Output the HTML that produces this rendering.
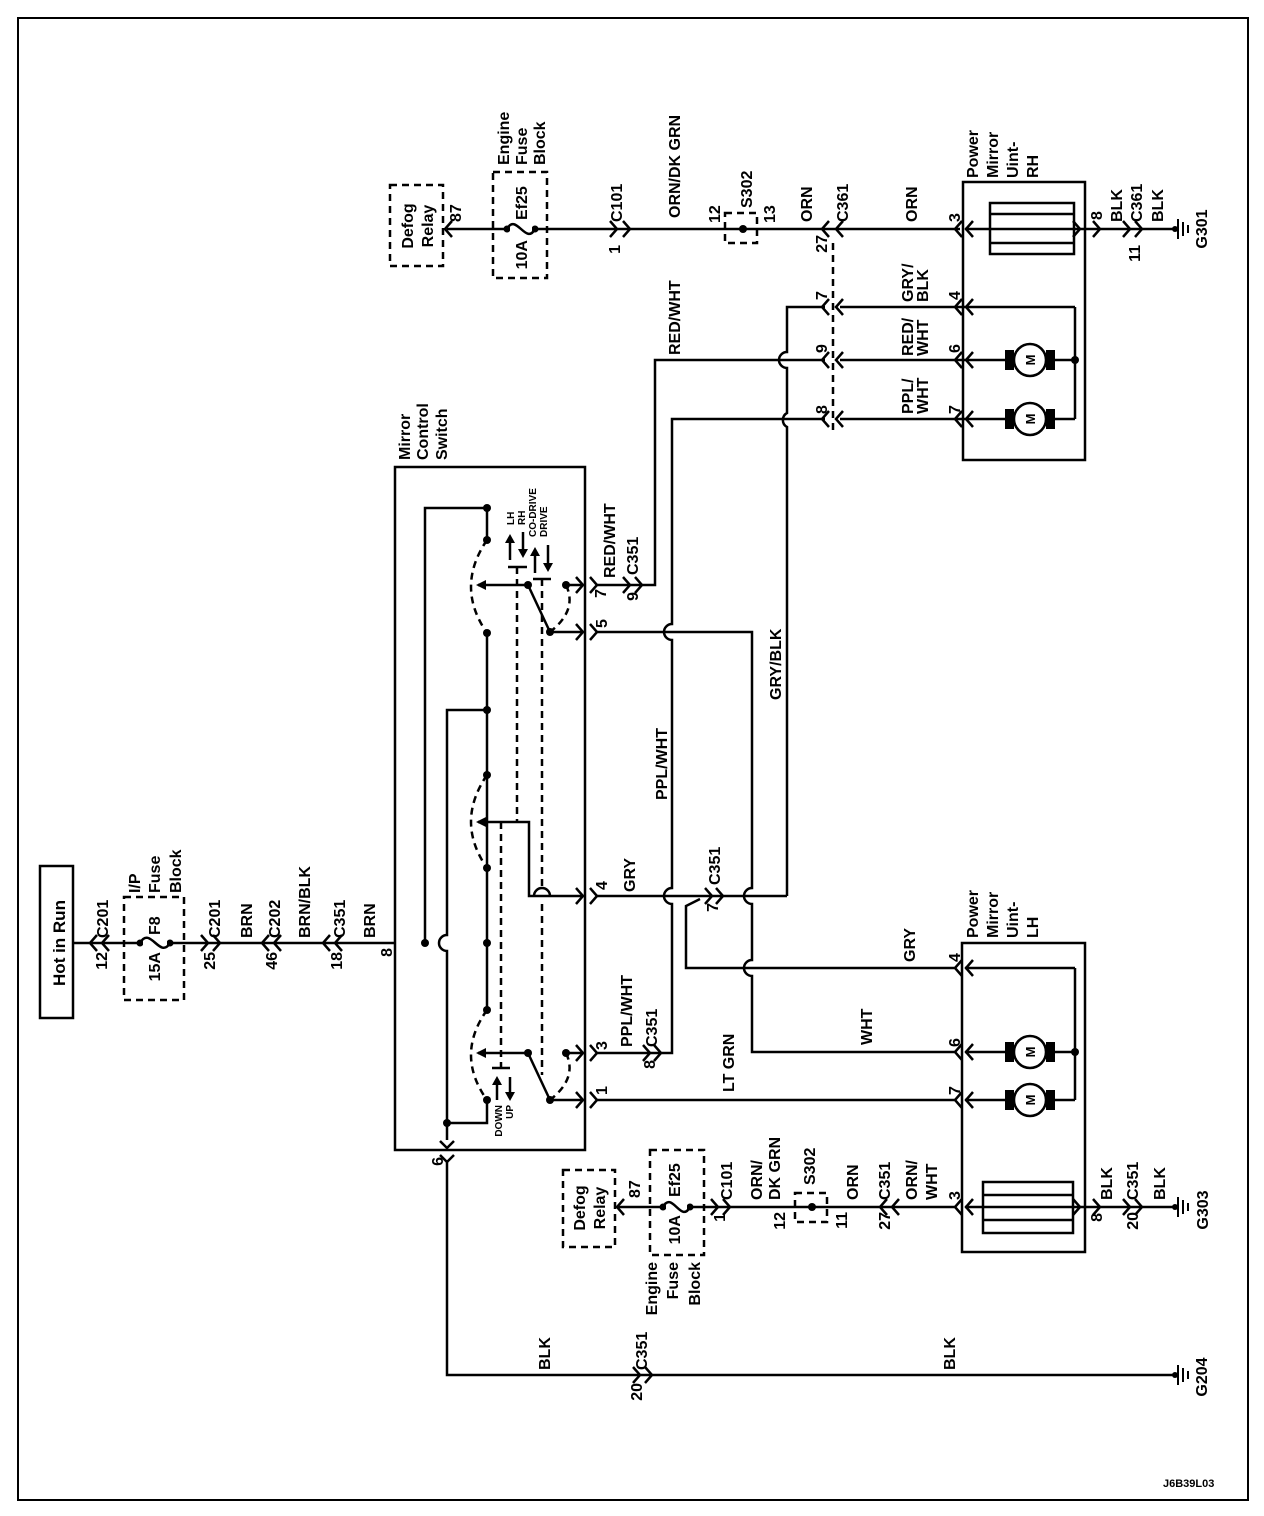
<!DOCTYPE html>
<html><head><meta charset="utf-8"><style>
html,body{margin:0;padding:0;background:#fff}
svg{display:block}
text{font-family:"Liberation Sans",Arial,sans-serif;font-size:16px;font-weight:bold;fill:#000}
.s{font-size:10px;font-weight:bold}
</style></head><body>
<svg width="1264" height="1516" viewBox="0 0 1264 1516" xmlns="http://www.w3.org/2000/svg">
<defs>
<polyline id="R" points="-7,-8 0,0 -7,8" fill="none" stroke="#000" stroke-width="2.5"/>
<polyline id="L" points="7,-8 0,0 7,8" fill="none" stroke="#000" stroke-width="2.5"/>
<polyline id="D" points="-7,-7 0,0 7,-7" fill="none" stroke="#000" stroke-width="2.5"/>
<g id="M"><rect x="-25" y="-10" width="9" height="20" fill="#000"/><rect x="16" y="-10" width="9" height="20" fill="#000"/><circle r="16" fill="#fff" stroke="#000" stroke-width="2.5"/><text x="0" y="0" transform="rotate(-90)" text-anchor="middle" dy="5" style="font-size:13px;font-weight:bold">M</text></g>
<g id="G"><circle r="3" fill="#000"/><line x1="3" y1="-10" x2="3" y2="10" stroke="#000" stroke-width="2"/><line x1="8" y1="-7" x2="8" y2="7" stroke="#000" stroke-width="2"/><line x1="13" y1="-4" x2="13" y2="4" stroke="#000" stroke-width="2"/></g>
</defs>
<rect x="18" y="18" width="1230" height="1482" fill="none" stroke="#000" stroke-width="2"/>

<g fill="none" stroke="#000" stroke-width="2.5">
<rect x="40" y="866" width="33" height="152"/>
<line x1="73" y1="943" x2="395" y2="943"/>
<line x1="447" y1="229" x2="960" y2="229"/>
<line x1="965" y1="229" x2="1175" y2="229"/>
<rect x="963" y="182" width="122" height="278"/>
<rect x="990" y="203" width="84" height="51"/>
<line x1="990" y1="214" x2="1074" y2="214"/><line x1="990" y1="243" x2="1074" y2="243"/>
<line x1="1075" y1="307" x2="1075" y2="419"/>
<line x1="840" y1="307" x2="1075" y2="307"/>
<line x1="840" y1="360" x2="1075" y2="360"/>
<line x1="840" y1="419" x2="1075" y2="419"/>
<path d="M825 307 H787 V352 A8 8 0 0 0 787 368 V413 A8 8 0 0 0 787 427 V896"/>
<path d="M825 360 H655 V585 H640"/>
<path d="M825 419 H672 V624 A8 8 0 0 0 672 640 V888 A8 8 0 0 0 672 904 V1053 H660"/>
<rect x="395" y="467" width="190" height="683"/>
<path d="M425 943 V508 H487 V540"/>
<path d="M487 633 V1010"/>
<path d="M447 1140 V951 A8 8 0 0 1 447 935 V710 H487"/>
<path d="M487 1100 V1123 H447"/>
<line x1="478" y1="585" x2="528" y2="585"/>
<line x1="528" y1="585" x2="550" y2="632"/>
<line x1="550" y1="632" x2="583" y2="632"/>
<line x1="566" y1="585" x2="583" y2="585"/>
<path d="M478 822 H529 V896 H583"/>
<line x1="478" y1="1053" x2="528" y2="1053"/>
<line x1="528" y1="1053" x2="550" y2="1100"/>
<line x1="550" y1="1100" x2="583" y2="1100"/>
<line x1="566" y1="1053" x2="583" y2="1053"/>
<path d="M597 585 H640"/>
<path d="M597 632 H752 V888 A8 8 0 0 0 752 904 V960 A8 8 0 0 0 752 976 V1052 H955"/>
<path d="M597 896 H787"/>
<path d="M700 899 L686 906 V968 H955"/>
<line x1="597" y1="1053" x2="660" y2="1053"/>
<line x1="597" y1="1100" x2="955" y2="1100"/>
<rect x="962" y="943" width="123" height="309"/>
<line x1="1075" y1="968" x2="1075" y2="1100"/>
<line x1="965" y1="968" x2="1075" y2="968"/>
<line x1="965" y1="1052" x2="1075" y2="1052"/>
<line x1="965" y1="1100" x2="1075" y2="1100"/>
<rect x="983" y="1182" width="90" height="51"/>
<line x1="983" y1="1195" x2="1073" y2="1195"/><line x1="983" y1="1220" x2="1073" y2="1220"/>
<line x1="618" y1="1207" x2="955" y2="1207"/>
<line x1="965" y1="1207" x2="1175" y2="1207"/>
<path d="M447 1160 V1375 H1175"/>
</g>
<g fill="none" stroke="#000" stroke-width="2.5" stroke-dasharray="7,5">
<rect x="124" y="897" width="60" height="103"/>
<rect x="390" y="185" width="53" height="81"/>
<rect x="493" y="172" width="54" height="106"/>
<rect x="725" y="213" width="32" height="30"/>
<line x1="833" y1="243" x2="833" y2="430"/>
<rect x="563" y="1170" width="52" height="77"/>
<rect x="650" y="1150" width="54" height="105"/>
<rect x="795" y="1193" width="32" height="29"/>
<path d="M487 540 Q455 587 487 633"/>
<path d="M487 775 Q455 822 487 868"/>
<path d="M487 1010 Q455 1055 487 1100"/>
<path d="M566 585 Q578 610 550 632"/>
<path d="M566 1053 Q578 1078 550 1100"/>
<line x1="517" y1="567" x2="517" y2="822"/>
<line x1="542" y1="579" x2="542" y2="888"/>
<line x1="542" y1="904" x2="542" y2="1075"/>
<line x1="501" y1="822" x2="501" y2="1068"/>
</g>
<path d="M534 896 A8 8 0 0 1 550 896" fill="none" stroke="#000" stroke-width="2.5"/>
<g stroke="#000" stroke-width="2.5">
<line x1="508" y1="567" x2="527" y2="567"/><line x1="533" y1="579" x2="551" y2="579"/><line x1="492" y1="1068" x2="510" y2="1068"/>
<line x1="510" y1="560" x2="510" y2="540"/><line x1="523" y1="532" x2="523" y2="552"/>
<line x1="535" y1="573" x2="535" y2="553"/><line x1="548" y1="545" x2="548" y2="566"/>
<line x1="497" y1="1100" x2="497" y2="1082"/><line x1="510" y1="1077" x2="510" y2="1095"/>
</g>
<g fill="#000">
<polygon points="510,534 505,543 515,543"/><polygon points="523,558 518,549 528,549"/>
<polygon points="535,547 530,556 540,556"/><polygon points="548,572 543,563 553,563"/>
<polygon points="497,1076 492,1085 502,1085"/><polygon points="510,1101 505,1092 515,1092"/>
<polygon points="476,585 486,580 486,590"/><polygon points="476,822 486,817 486,827"/><polygon points="476,1053 486,1048 486,1058"/>
<circle cx="425" cy="943" r="4"/><circle cx="487" cy="943" r="4"/><circle cx="487" cy="508" r="4"/><circle cx="487" cy="540" r="4"/><circle cx="487" cy="633" r="4"/><circle cx="487" cy="710" r="4"/><circle cx="487" cy="775" r="4"/><circle cx="487" cy="868" r="4"/><circle cx="487" cy="1010" r="4"/><circle cx="487" cy="1100" r="4"/><circle cx="447" cy="1123" r="4"/>
<circle cx="528" cy="585" r="4"/><circle cx="566" cy="585" r="4"/><circle cx="550" cy="632" r="4"/>
<circle cx="528" cy="1053" r="4"/><circle cx="566" cy="1053" r="4"/><circle cx="550" cy="1100" r="4"/>
<circle cx="743" cy="229" r="4"/><circle cx="812" cy="1207" r="4"/>
<circle cx="1075" cy="360" r="4"/><circle cx="1075" cy="1052" r="4"/>
<circle cx="140" cy="943" r="3.5"/><circle cx="170" cy="943" r="3.5"/>
<circle cx="507" cy="229" r="3.5"/><circle cx="535" cy="229" r="3.5"/>
<circle cx="663" cy="1207" r="3.5"/><circle cx="690" cy="1207" r="3.5"/>
</g>
<g stroke="#fff" stroke-width="4"><line x1="143" y1="943" x2="167" y2="943"/><line x1="510" y1="229" x2="532" y2="229"/><line x1="666" y1="1207" x2="687" y2="1207"/></g>
<g fill="none" stroke="#000" stroke-width="2.5">
<path d="M140 943 C150 925 160 960 170 943"/><path d="M507 229 C516 212 526 246 535 229"/><path d="M663 1207 C672 1190 681 1224 690 1207"/>
</g>
<use href="#M" x="1030" y="360"/><use href="#M" x="1030" y="419"/>
<use href="#M" x="1030" y="1052"/><use href="#M" x="1030" y="1100"/>
<use href="#G" x="1175" y="229"/><use href="#G" x="1175" y="1207"/><use href="#G" x="1175" y="1375"/>
<use href="#L" x="90" y="943"/><use href="#L" x="102" y="943"/>
<use href="#R" x="208" y="943"/><use href="#R" x="220" y="943"/>
<use href="#L" x="262" y="943"/><use href="#L" x="274" y="943"/>
<use href="#L" x="323" y="943"/><use href="#L" x="335" y="943"/>
<use href="#L" x="445" y="229"/>
<use href="#R" x="617" y="229"/><use href="#R" x="630" y="229"/>
<use href="#L" x="822" y="229"/><use href="#L" x="836" y="229"/>
<use href="#L" x="822" y="307"/><use href="#L" x="836" y="307"/>
<use href="#L" x="822" y="360"/><use href="#L" x="836" y="360"/>
<use href="#L" x="822" y="419"/><use href="#L" x="836" y="419"/>
<use href="#L" x="955" y="229"/><use href="#L" x="966" y="229"/>
<use href="#L" x="955" y="307"/><use href="#L" x="966" y="307"/>
<use href="#L" x="955" y="360"/><use href="#L" x="966" y="360"/>
<use href="#L" x="955" y="419"/><use href="#L" x="966" y="419"/>
<use href="#R" x="1080" y="229"/><use href="#R" x="1100" y="229"/>
<use href="#R" x="1130" y="229"/><use href="#R" x="1142" y="229"/>
<use href="#R" x="583" y="585"/><use href="#R" x="597" y="585"/>
<use href="#R" x="583" y="632"/><use href="#R" x="597" y="632"/>
<use href="#R" x="583" y="896"/><use href="#R" x="597" y="896"/>
<use href="#R" x="583" y="1053"/><use href="#R" x="597" y="1053"/>
<use href="#R" x="583" y="1100"/><use href="#R" x="597" y="1100"/>
<use href="#R" x="630" y="585"/><use href="#R" x="642" y="585"/>
<use href="#R" x="712" y="896"/><use href="#R" x="723" y="896"/>
<use href="#R" x="650" y="1053"/><use href="#R" x="661" y="1053"/>
<use href="#L" x="955" y="968"/><use href="#L" x="966" y="968"/>
<use href="#L" x="955" y="1052"/><use href="#L" x="966" y="1052"/>
<use href="#L" x="955" y="1100"/><use href="#L" x="966" y="1100"/>
<use href="#L" x="955" y="1207"/><use href="#L" x="966" y="1207"/>
<use href="#R" x="1080" y="1207"/><use href="#R" x="1100" y="1207"/>
<use href="#R" x="1130" y="1207"/><use href="#R" x="1142" y="1207"/>
<use href="#L" x="617" y="1207"/>
<use href="#R" x="718" y="1207"/><use href="#R" x="730" y="1207"/>
<use href="#L" x="880" y="1207"/><use href="#L" x="892" y="1207"/>
<use href="#D" x="447" y="1148"/><use href="#D" x="447" y="1162"/>
<use href="#R" x="640" y="1375"/><use href="#R" x="652" y="1375"/>

<g>
<text x="65" y="943" text-anchor="middle" transform="rotate(-90 65 943)" style="font-size:17px">Hot in Run</text>
<text x="108" y="938" transform="rotate(-90 108 938)">C201</text>
<text x="107" y="952" text-anchor="end" transform="rotate(-90 107 952)">12</text>
<text x="140" y="893" transform="rotate(-90 140 893)">I/P</text>
<text x="160" y="893" transform="rotate(-90 160 893)">Fuse</text>
<text x="181" y="893" transform="rotate(-90 181 893)">Block</text>
<text x="160" y="935" transform="rotate(-90 160 935)">F8</text>
<text x="160" y="952" text-anchor="end" transform="rotate(-90 160 952)">15A</text>
<text x="220" y="938" transform="rotate(-90 220 938)">C201</text>
<text x="215" y="952" text-anchor="end" transform="rotate(-90 215 952)">25</text>
<text x="252" y="938" transform="rotate(-90 252 938)">BRN</text>
<text x="280" y="938" transform="rotate(-90 280 938)">C202</text>
<text x="277" y="952" text-anchor="end" transform="rotate(-90 277 952)">46</text>
<text x="310" y="938" transform="rotate(-90 310 938)">BRN/BLK</text>
<text x="345" y="938" transform="rotate(-90 345 938)">C351</text>
<text x="342" y="952" text-anchor="end" transform="rotate(-90 342 952)">18</text>
<text x="375" y="938" transform="rotate(-90 375 938)">BRN</text>
<text x="392" y="948" text-anchor="end" transform="rotate(-90 392 948)">8</text>

<text x="413" y="226" text-anchor="middle" transform="rotate(-90 413 226)">Defog</text>
<text x="433" y="226" text-anchor="middle" transform="rotate(-90 433 226)">Relay</text>
<text x="461" y="222" transform="rotate(-90 461 222)">87</text>
<text x="509" y="165" transform="rotate(-90 509 165)">Engine</text>
<text x="527" y="165" transform="rotate(-90 527 165)">Fuse</text>
<text x="545" y="165" transform="rotate(-90 545 165)">Block</text>
<text x="527" y="220" transform="rotate(-90 527 220)">Ef25</text>
<text x="527" y="240" text-anchor="end" transform="rotate(-90 527 240)">10A</text>
<text x="622" y="222" transform="rotate(-90 622 222)">C101</text>
<text x="620" y="245" text-anchor="end" transform="rotate(-90 620 245)">1</text>
<text x="680" y="218" transform="rotate(-90 680 218)">ORN/DK GRN</text>
<text x="720" y="223" transform="rotate(-90 720 223)">12</text>
<text x="752" y="208" transform="rotate(-90 752 208)">S302</text>
<text x="775" y="223" transform="rotate(-90 775 223)">13</text>
<text x="812" y="222" transform="rotate(-90 812 222)">ORN</text>
<text x="848" y="222" transform="rotate(-90 848 222)">C361</text>
<text x="827" y="235" text-anchor="end" transform="rotate(-90 827 235)">27</text>
<text x="917" y="222" transform="rotate(-90 917 222)">ORN</text>
<text x="960" y="222" transform="rotate(-90 960 222)">3</text>
<text x="1102" y="220" transform="rotate(-90 1102 220)">8</text>
<text x="1122" y="222" transform="rotate(-90 1122 222)">BLK</text>
<text x="1142" y="222" transform="rotate(-90 1142 222)">C361</text>
<text x="1140" y="245" text-anchor="end" transform="rotate(-90 1140 245)">11</text>
<text x="1163" y="222" transform="rotate(-90 1163 222)">BLK</text>
<text x="1207" y="229" text-anchor="middle" transform="rotate(-90 1207 229)">G301</text>
<text x="978" y="178" transform="rotate(-90 978 178)">Power</text>
<text x="998" y="178" transform="rotate(-90 998 178)">Mirror</text>
<text x="1018" y="178" transform="rotate(-90 1018 178)">Uint-</text>
<text x="1038" y="178" transform="rotate(-90 1038 178)">RH</text>

<text x="913" y="302" transform="rotate(-90 913 302)">GRY/</text>
<text x="928" y="302" transform="rotate(-90 928 302)">BLK</text>
<text x="960" y="300" transform="rotate(-90 960 300)">4</text>
<text x="827" y="300" transform="rotate(-90 827 300)">7</text>
<text x="913" y="356" transform="rotate(-90 913 356)">RED/</text>
<text x="928" y="356" transform="rotate(-90 928 356)">WHT</text>
<text x="960" y="353" transform="rotate(-90 960 353)">6</text>
<text x="827" y="353" transform="rotate(-90 827 353)">9</text>
<text x="913" y="414" transform="rotate(-90 913 414)">PPL/</text>
<text x="928" y="414" transform="rotate(-90 928 414)">WHT</text>
<text x="960" y="414" transform="rotate(-90 960 414)">7</text>
<text x="827" y="414" transform="rotate(-90 827 414)">8</text>
<text x="680" y="355" transform="rotate(-90 680 355)">RED/WHT</text>

<text x="410" y="460" transform="rotate(-90 410 460)">Mirror</text>
<text x="428" y="460" transform="rotate(-90 428 460)">Control</text>
<text x="447" y="460" transform="rotate(-90 447 460)">Switch</text>
<text class="s" x="514" y="525" transform="rotate(-90 514 525)">LH</text>
<text class="s" x="525" y="525" transform="rotate(-90 525 525)">RH</text>
<text class="s" x="536" y="537" transform="rotate(-90 536 537)">CO-DRIVE</text>
<text class="s" x="547" y="537" transform="rotate(-90 547 537)">DRIVE</text>
<text class="s" x="502" y="1105" text-anchor="end" transform="rotate(-90 502 1105)">DOWN</text>
<text class="s" x="513" y="1105" text-anchor="end" transform="rotate(-90 513 1105)">UP</text>

<text x="615" y="578" transform="rotate(-90 615 578)">RED/WHT</text>
<text x="638" y="575" transform="rotate(-90 638 575)">C351</text>
<text x="606" y="589" text-anchor="end" transform="rotate(-90 606 589)">7</text>
<text x="638" y="592" text-anchor="end" transform="rotate(-90 638 592)">9</text>
<text x="607" y="628" transform="rotate(-90 607 628)">5</text>
<text x="607" y="890" transform="rotate(-90 607 890)">4</text>
<text x="635" y="892" transform="rotate(-90 635 892)">GRY</text>
<text x="720" y="885" transform="rotate(-90 720 885)">C351</text>
<text x="718" y="903" text-anchor="end" transform="rotate(-90 718 903)">7</text>
<text x="667" y="800" transform="rotate(-90 667 800)">PPL/WHT</text>
<text x="781" y="700" transform="rotate(-90 781 700)">GRY/BLK</text>
<text x="607" y="1050" transform="rotate(-90 607 1050)">3</text>
<text x="632" y="1047" transform="rotate(-90 632 1047)">PPL/WHT</text>
<text x="657" y="1047" transform="rotate(-90 657 1047)">C351</text>
<text x="655" y="1060" text-anchor="end" transform="rotate(-90 655 1060)">8</text>
<text x="607" y="1095" transform="rotate(-90 607 1095)">1</text>
<text x="443" y="1157" text-anchor="end" transform="rotate(-90 443 1157)">6</text>

<text x="915" y="962" transform="rotate(-90 915 962)">GRY</text>
<text x="872" y="1045" transform="rotate(-90 872 1045)">WHT</text>
<text x="734" y="1092" transform="rotate(-90 734 1092)">LT GRN</text>
<text x="978" y="938" transform="rotate(-90 978 938)">Power</text>
<text x="998" y="938" transform="rotate(-90 998 938)">Mirror</text>
<text x="1018" y="938" transform="rotate(-90 1018 938)">Uint-</text>
<text x="1038" y="938" transform="rotate(-90 1038 938)">LH</text>
<text x="960" y="962" transform="rotate(-90 960 962)">4</text>
<text x="960" y="1047" transform="rotate(-90 960 1047)">6</text>
<text x="960" y="1095" transform="rotate(-90 960 1095)">7</text>
<text x="960" y="1200" transform="rotate(-90 960 1200)">3</text>
<text x="1102" y="1213" text-anchor="end" transform="rotate(-90 1102 1213)">8</text>
<text x="1112" y="1200" transform="rotate(-90 1112 1200)">BLK</text>
<text x="1138" y="1200" transform="rotate(-90 1138 1200)">C351</text>
<text x="1138" y="1212" text-anchor="end" transform="rotate(-90 1138 1212)">20</text>
<text x="1165" y="1200" transform="rotate(-90 1165 1200)">BLK</text>
<text x="1208" y="1210" text-anchor="middle" transform="rotate(-90 1208 1210)">G303</text>

<text x="585" y="1208" text-anchor="middle" transform="rotate(-90 585 1208)">Defog</text>
<text x="605" y="1208" text-anchor="middle" transform="rotate(-90 605 1208)">Relay</text>
<text x="640" y="1198" transform="rotate(-90 640 1198)">87</text>
<text x="680" y="1197" transform="rotate(-90 680 1197)">Ef25</text>
<text x="680" y="1215" text-anchor="end" transform="rotate(-90 680 1215)">10A</text>
<text x="657" y="1262" text-anchor="end" transform="rotate(-90 657 1262)">Engine</text>
<text x="678" y="1262" text-anchor="end" transform="rotate(-90 678 1262)">Fuse</text>
<text x="700" y="1262" text-anchor="end" transform="rotate(-90 700 1262)">Block</text>
<text x="732" y="1200" transform="rotate(-90 732 1200)">C101</text>
<text x="725" y="1213" text-anchor="end" transform="rotate(-90 725 1213)">1</text>
<text x="762" y="1200" transform="rotate(-90 762 1200)">ORN/</text>
<text x="780" y="1200" transform="rotate(-90 780 1200)">DK GRN</text>
<text x="815" y="1185" transform="rotate(-90 815 1185)">S302</text>
<text x="785" y="1212" text-anchor="end" transform="rotate(-90 785 1212)">12</text>
<text x="847" y="1212" text-anchor="end" transform="rotate(-90 847 1212)">11</text>
<text x="858" y="1200" transform="rotate(-90 858 1200)">ORN</text>
<text x="890" y="1200" transform="rotate(-90 890 1200)">C351</text>
<text x="890" y="1212" text-anchor="end" transform="rotate(-90 890 1212)">27</text>
<text x="917" y="1200" transform="rotate(-90 917 1200)">ORN/</text>
<text x="937" y="1200" transform="rotate(-90 937 1200)">WHT</text>

<text x="550" y="1370" transform="rotate(-90 550 1370)">BLK</text>
<text x="647" y="1370" transform="rotate(-90 647 1370)">C351</text>
<text x="642" y="1383" text-anchor="end" transform="rotate(-90 642 1383)">20</text>
<text x="955" y="1370" transform="rotate(-90 955 1370)">BLK</text>
<text x="1207" y="1377" text-anchor="middle" transform="rotate(-90 1207 1377)">G204</text>
</g>
<text x="1163" y="1487" style="font-size:11px">J6B39L03</text>
</svg>
</body></html>
